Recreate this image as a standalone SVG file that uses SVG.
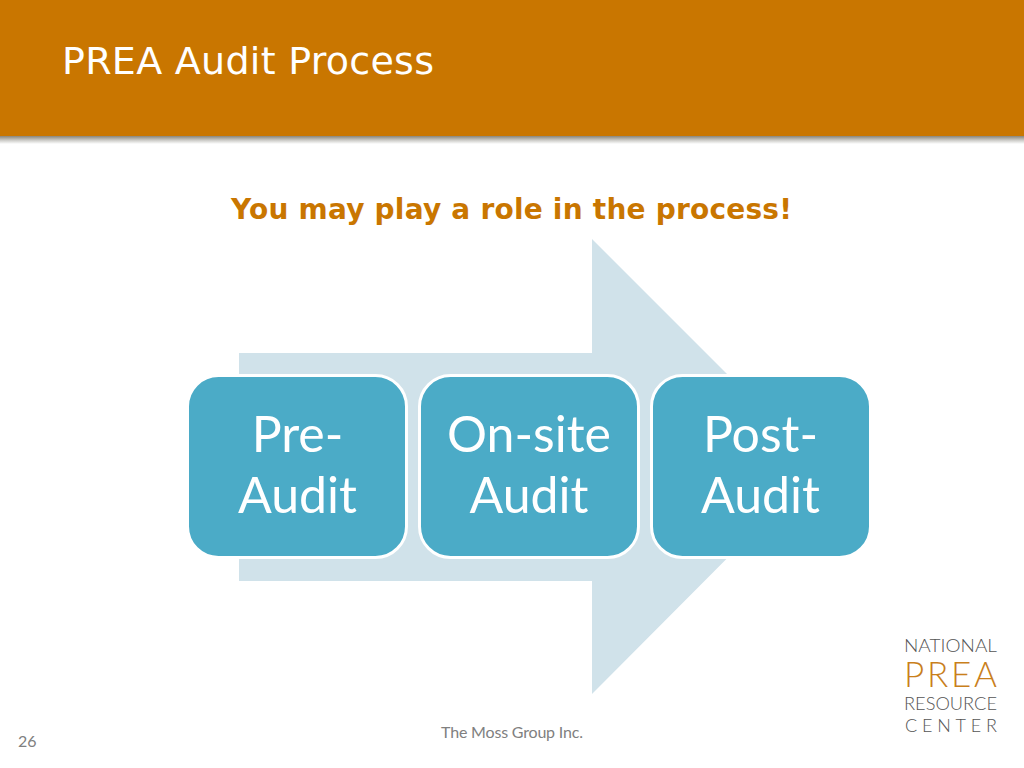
<svg xmlns="http://www.w3.org/2000/svg" width="1024" height="768" viewBox="0 0 1024 768">
<defs>
<linearGradient id="shadow" x1="0" y1="0" x2="0" y2="1"><stop offset="0" stop-color="#8a8578"/><stop offset="0.5" stop-color="#c9c8c4"/><stop offset="1" stop-color="#ffffff"/></linearGradient>
</defs>
<style>
.box{fill:#4babc7;stroke:#fff;stroke-width:3}
.lbl{font-family:"Lato","Open Sans",sans-serif;font-size:50px;fill:#fff;text-anchor:middle}
.logo{font-family:"Lato","Liberation Sans",sans-serif;font-weight:300;fill:#555}
</style>
<rect width="1024" height="768" fill="#fff"/>
<g id="header">
<rect x="0" y="136" width="1024" height="8" fill="url(#shadow)"/>
<rect x="0" y="0" width="1024" height="136" fill="#c97600"/>
<text x="62" y="74" font-family="'DejaVu Sans',sans-serif" font-size="38" textLength="372" lengthAdjust="spacing" fill="#fff">PREA Audit Process</text>
</g>
<text x="231" y="219" font-family="'DejaVu Sans',sans-serif" font-weight="700" font-size="28" textLength="561" lengthAdjust="spacing" fill="#c97600">You may play a role in the process!</text>
<g id="arrow"><polygon points="239,353 592,353 592,239 819,466 592,694 592,581 239,581" fill="#d0e2ea"/></g>
<g id="connectors"></g>
<g id="pre-audit"><rect class="box" x="187.500" y="375.500" width="219" height="182" rx="31"/>
<text class="lbl" x="297.500" y="452">Pre-</text><text class="lbl" x="297.500" y="513">Audit</text></g>
<g id="on-site-audit"><rect class="box" x="419.500" y="375.500" width="219" height="182" rx="31"/>
<text class="lbl" x="529" y="452">On-site</text><text class="lbl" x="529" y="513">Audit</text></g>
<g id="post-audit"><rect class="box" x="651.500" y="375.500" width="219" height="182" rx="31"/>
<text class="lbl" x="760.500" y="452">Post-</text><text class="lbl" x="760.500" y="513">Audit</text></g>
<g id="footer" font-family="'Lato','Open Sans',sans-serif" font-size="16" fill="#808080">
<text x="441" y="738" textLength="142" lengthAdjust="spacing">The Moss Group Inc.</text>
<text x="18" y="747">26</text>
</g>
<g id="logo">
<text class="logo" x="904" y="652" font-size="18" textLength="93" lengthAdjust="spacingAndGlyphs">NATIONAL</text>
<text class="logo" x="904" y="687" font-size="35" textLength="93" lengthAdjust="spacing" style="fill:#c97f1c">PREA</text>
<text class="logo" x="904" y="710" font-size="18" textLength="93" lengthAdjust="spacingAndGlyphs">RESOURCE</text>
<text class="logo" x="905" y="732" font-size="18" textLength="92" lengthAdjust="spacing">CENTER</text>
</g>
</svg>
